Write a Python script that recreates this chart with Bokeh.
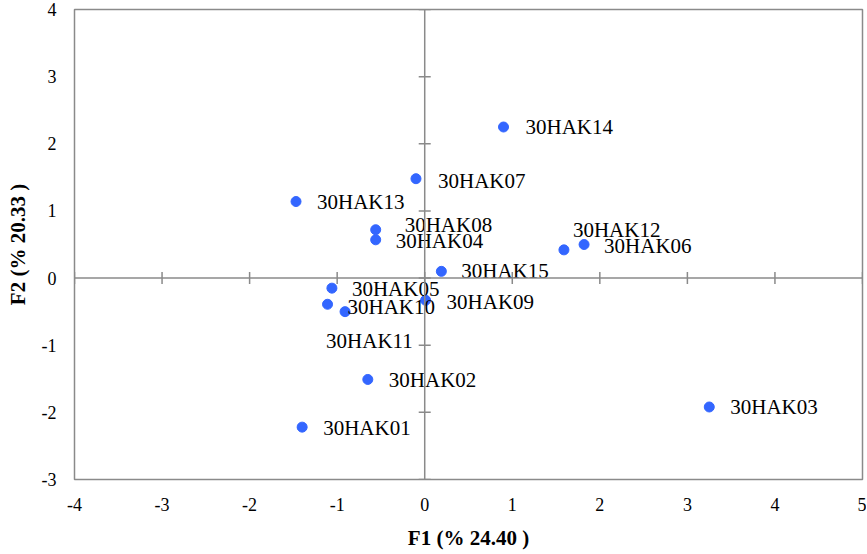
import math
from bokeh.plotting import figure
from bokeh.models import ColumnDataSource, Range1d, FixedTicker, Span
from bokeh.core.properties import value
from bokeh.embed import file_html
from bokeh.resources import INLINE

# ---- data ----
names = ["30HAK01", "30HAK02", "30HAK03", "30HAK04", "30HAK05", "30HAK06", "30HAK07",
         "30HAK08", "30HAK09", "30HAK10", "30HAK11", "30HAK12", "30HAK13", "30HAK14", "30HAK15"]
f1 = [-1.40, -0.65, 3.25, -0.56, -1.06, 1.82, -0.10, -0.56, 0.01, -1.11, -0.91, 1.59, -1.47, 0.90, 0.19]
f2 = [-2.22, -1.51, -1.92, 0.57, -0.15, 0.50, 1.48, 0.72, -0.33, -0.39, -0.50, 0.42, 1.14, 2.25, 0.10]
x_ticks = [-4, -3, -2, -1, 0, 1, 2, 3, 4, 5]
y_ticks = [-3, -2, -1, 0, 1, 2, 3, 4]
x_title = "F1 (% 24.40 )"
y_title = "F2 (% 20.33 )"

# label placement (screen pixel offsets, styling only)
lab_dx = [21, 21, 21, 20, 20, 20, 22, 29, 21, 20, -19, 9, 21, 22, 20]
lab_dy = [1, 1, 0, 1, 1, 1, 2, -5, 2, 3, 29, -20, 0, 0, 0]

FONT = "Liberation Serif"
GRAY = "#8a8a8a"
BLUE = "#3366ff"

src = ColumnDataSource(dict(x=f1, y=f2, name=names, dx=lab_dx, dy=lab_dy))

p = figure(width=866, height=552, output_backend="svg", toolbar_location=None,
           x_range=Range1d(x_ticks[0], x_ticks[-1]), y_range=Range1d(y_ticks[0], y_ticks[-1]),
           min_border_left=74, min_border_right=4, min_border_top=9, min_border_bottom=72)
p.grid.visible = False
p.background_fill_color = "white"
p.border_fill_color = "white"
p.outline_line_color = GRAY
p.outline_line_width = 1.5

for ax in (p.xaxis[0], p.yaxis[0]):
    ax.axis_line_color = None
    ax.major_tick_line_color = None
    ax.minor_tick_line_color = None
    ax.major_tick_out = 0
    ax.major_tick_in = 0
    ax.major_label_text_font = FONT
    ax.major_label_text_font_size = "18px"
    ax.major_label_text_color = "black"
    ax.axis_label_text_font = FONT
    ax.axis_label_text_font_size = "21px"
    ax.axis_label_text_font_style = "bold"
    ax.axis_label_text_color = "black"

p.xaxis.ticker = FixedTicker(ticks=x_ticks)
p.yaxis.ticker = FixedTicker(ticks=y_ticks)
p.xaxis.major_label_overrides = {t: str(t) for t in x_ticks}
p.yaxis.major_label_overrides = {t: str(t) for t in y_ticks}
p.xaxis.axis_label = x_title
p.yaxis.axis_label = y_title
p.xaxis.major_label_standoff = 18
p.xaxis.axis_label_standoff = 12
p.yaxis.major_label_standoff = 18
p.yaxis.axis_label_standoff = 9

# centre axes
p.add_layout(Span(location=0, dimension="height", line_color=GRAY, line_width=1.5))
p.add_layout(Span(location=0, dimension="width", line_color=GRAY, line_width=1.5))
# cross tick marks on centre axes
p.scatter(x=x_ticks, y=[0] * len(x_ticks), marker="dash", size=12, angle=math.pi / 2,
          line_color=GRAY, line_width=1.5)
p.scatter(x=[0] * len(y_ticks), y=y_ticks, marker="dash", size=12,
          line_color=GRAY, line_width=1.5)

p.scatter("x", "y", source=src, size=10, fill_color=BLUE, line_color=BLUE)
p.text("x", "y", text="name", source=src, x_offset="dx", y_offset="dy",
       text_font=value(FONT), text_font_size="21px", text_color="black",
       text_align="left", text_baseline="middle")

open("out.html", "w").write(file_html(p, INLINE))
